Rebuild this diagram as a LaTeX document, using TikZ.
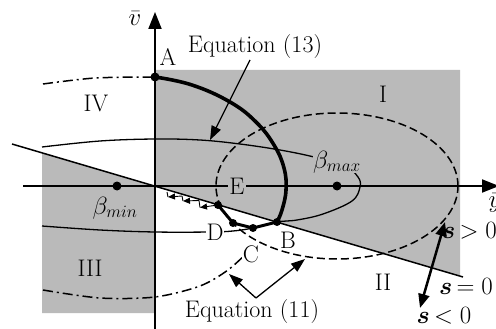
\documentclass[tikz,border=0pt]{standalone}
\usetikzlibrary{arrows.meta}
\definecolor{shadecol}{gray}{0.73}
\tikzset{
  axisline/.style={line width=2pt},
  thinc/.style={line width=1.3pt},
  thickc/.style={line width=3.6pt},
  dashc/.style={line width=1.5pt, dash pattern=on 8pt off 4pt},
  dashdotc/.style={line width=1.5pt, dash pattern=on 10pt off 4pt on 2pt off 4pt},
  bigdot/.style={circle, fill=black, inner sep=0pt, minimum size=9pt},
  middot/.style={circle, fill=black, inner sep=0pt, minimum size=8pt},
  lbl/.style={inner sep=1pt},
  eqarrow/.style={line width=1.3pt, -{Triangle[length=14pt,width=10pt]}},
  chat/.style={line width=0.9pt, -{Triangle[length=7pt,width=6pt]}},
}
\begin{document}
\begin{tikzpicture}[x=1pt,y=-1pt,font=\fontsize{24}{28}\selectfont]
\useasboundingbox (0,0) rectangle (496,329);
% shading
\fill[shadecol] (155,70) -- (460,70) -- (460,276) -- (155,186) -- cycle;
\fill[shadecol] (42,153) -- (155,186) -- (155,313) -- (42,313) -- cycle;
% sliding line s=0
\coordinate (s0a) at (12,144);
\coordinate (s0b) at (463,277);
\draw[line width=1.5pt] (s0a) -- (s0b);
% dashed ellipse
\draw[dashc] (337,186) ellipse [x radius=121pt, y radius=73pt];
% beta curve
\draw[thinc] plot[smooth, tension=0.6] coordinates {(42,147) (100,141) (155,139) (200,140) (240,144) (280,150) (314,157) (345,166) (358,177) (360,187) (352,201) (323,214) (297,220) (277,222) (253,228) (233,231) (210,232) (155,232) (100,230) (42,226)};
% dash-dot curves
\draw[dashdotc] plot[smooth] coordinates {(43,84) (95,78) (155,77)};
\draw[dashdotc] plot[smooth] coordinates {(43,290) (100,298) (155,297) (200,286) (228,270) (250,250)};
% axes
\coordinate (vbot) at (155,329);
\coordinate (vtop) at (155,12);
\coordinate (hl) at (23,186);
\coordinate (hr) at (499,186);
\draw[axisline, -{Triangle[length=17pt,width=13pt]}] (vbot) -- (vtop);
\draw[axisline, -{Triangle[length=17pt,width=13pt]}] (hl) -- (hr);
% thick curve (Eq 13)
\coordinate (A) at (155,77);
\coordinate (B) at (277,222);
\coordinate (C) at (253,228);
\coordinate (D) at (233,223);
\coordinate (P) at (218,205);
\draw[thickc] plot[smooth, tension=0.7] coordinates {(155,77) (192,85) (230,102) (256,122) (274,145) (284,168) (286,190) (282,210) (277,222)};
\draw[line width=3pt, line join=round] (P) -- (D) -- (C) -- (B);
% chattering
\draw[chat] (P) -- (200,207.5);
\draw[line width=0.9pt] (200,207.5) -- (199,200.5);
\draw[chat] (199,200.5) -- (183,201);
\draw[line width=0.9pt] (183,201) -- (182,196);
\draw[chat] (182,196) -- (168,197);
\draw[line width=0.9pt] (168,197) -- (167,192);
% dots
\node[bigdot] at (A) {};
\node[bigdot] (bmin) at (117,186) {};
\node[bigdot] (bmax) at (337,186) {};
\node[middot] at (P) {};
\node[middot] at (D) {};
\node[middot] at (C) {};
\node[middot] at (B) {};
% labels
\node[lbl] (lA) at (168,57) {A};
\node[lbl] (lB) at (288,240) {B};
\node[lbl, fill=white] (lC) at (251,254) {C};
\node[lbl, fill=white] (lD) at (215,232) {D};
\node[lbl, fill=shadecol] (lE) at (237,186) {E};
\node (rI) at (383,94) {I};
\node (rII) at (383,282) {II};
\node (rIII) at (90,268) {III};
\node (rIV) at (96,103) {IV};
\node[lbl, fill=shadecol, inner sep=0pt] (lbmax) at (337,162) {$\beta_{max}$};
\node[lbl] (lbmin) at (115,208) {$\beta_{min}$};
\node (lv) at (135,19) {$\bar{v}$};
\node[inner sep=0pt] (ly) at (495,203) {$\bar{y}$};
% equation labels and arrows
\node (eq13) at (255,47) {Equation (13)};
\coordinate (eq13s) at (250,60);
\coordinate (eq13t) at (210,140);
\draw[eqarrow] (eq13s) -- (eq13t);
\node (eq11) at (252,312) {Equation (11)};
\coordinate (V) at (256,298);
\coordinate (eq11l) at (229,274);
\coordinate (eq11r) at (305,259);
\draw[eqarrow] (V) -- (eq11l);
\draw[eqarrow] (V) -- (eq11r);
% s labels and double arrow
\node[anchor=west, inner sep=0pt] (sp) at (442,231) {{\boldmath$s$}$\,>0$};
\node (sz) at (466,286) {{\boldmath$s$}$\,=0$};
\node (sn) at (444,316) {{\boldmath$s$}$\,<0$};
\coordinate (da1) at (445,222);
\coordinate (da2) at (420,308);
\draw[line width=2.5pt, {Triangle[length=14pt,width=11pt]}-{Triangle[length=14pt,width=11pt]}] (da1) -- (da2);
\end{tikzpicture}
\end{document}
